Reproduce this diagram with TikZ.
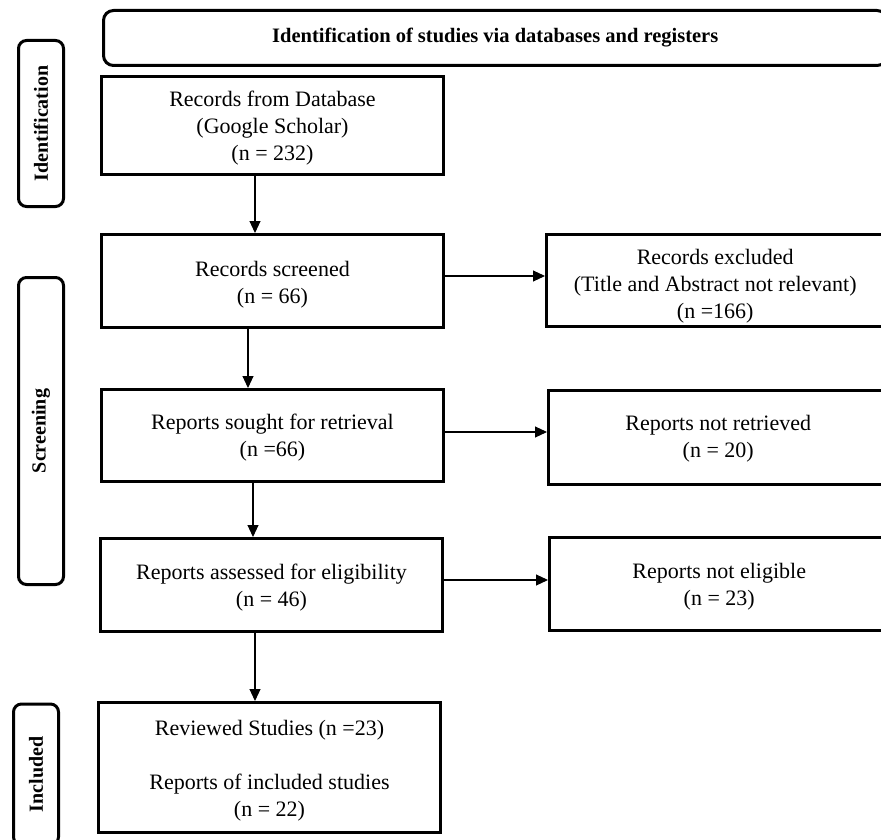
\documentclass[tikz,border=0pt]{standalone}
\usepackage{fontspec}
\setmainfont{Liberation Serif}
\usetikzlibrary{arrows.meta}
\begin{document}
\begin{tikzpicture}[x=1pt,y=-1pt,
  flowbox/.style={draw=black, line width=3pt, rectangle, inner sep=0pt},
  flowtext/.style={inner sep=0pt, align=center, font=\fontsize{22}{27}\selectfont},
  phase/.style={draw=black, line width=3pt, rectangle, rounded corners=8pt, inner sep=0pt,
    minimum width=45pt},
  phasetext/.style={rotate=90, font=\fontsize{20}{24}\selectfont\bfseries},
  arr/.style={line width=1.1pt, -{Triangle[length=12pt,width=11pt]}}]
\useasboundingbox (0,0) rectangle (881,840);
\clip (0,0) rectangle (881,840);
% header
\node[draw=black, line width=3pt, rounded corners=10pt, inner sep=0pt,
  minimum width=783.5pt, minimum height=55pt,
  font=\fontsize{20.5}{24}\selectfont\bfseries] (head) at (495.25,38)
  {Identification of studies via databases and registers};
% phase labels
\node[phase, minimum height=166pt] (idlab) at (41,123.5) {};
\node[phasetext] (idtxt) at (idlab.center) {Identification};
\node[phase, minimum height=307pt] (scrlab) at (41,431) {};
\node[phasetext] (scrtxt) at (scrlab.center) {Screening};
\node[phase, minimum height=141pt] (inclab) at (36,774.5) {};
\node[phasetext] (inctxt) at (inclab.center) {Included};
% main column
\node[flowbox, minimum width=342pt, minimum height=98pt] (box1) at (272.5,125.5) {};
\node[flowtext] (box1t) at ([yshift=-2.5pt]box1.center)
  {Records from Database\\(Google Scholar)\\(n = 232)};
\node[flowbox, minimum width=342pt, minimum height=93pt] (box2) at (272.5,281) {};
\node[flowtext] (box2t) at ([yshift=-3.5pt]box2.center)
  {Records screened\\(n = 66)};
\node[flowbox, minimum width=342pt, minimum height=92pt] (box3) at (272.5,435.5) {};
\node[flowtext] (box3t) at ([yshift=-2pt]box3.center)
  {Reports sought for retrieval\\(n =66)};
\node[flowbox, minimum width=342pt, minimum height=93pt] (box4) at (271.5,585) {};
\node[flowtext] (box4t) at ([yshift=-3pt]box4.center)
  {Reports assessed for eligibility\\(n = 46)};
\node[flowbox, minimum width=342pt, minimum height=130pt] (box5) at (269.5,767.5) {};
\node[flowtext] (box5t) at ([yshift=-3pt]box5.center)
  {Reviewed Studies (n =23)\\[27pt]Reports of included studies\\(n = 22)};
% right column
\node[flowbox, minimum width=337.5pt, minimum height=92pt] (rexcl) at (715.25,280.5) {};
\node[flowtext] (rexclt) at ([yshift=-5.5pt]rexcl.center)
  {Records excluded\\(Title and Abstract not relevant)\\(n =166)};
\node[flowbox, minimum width=339.5pt, minimum height=94pt] (rnotret) at (718.25,437.5) {};
\node[flowtext] (rnotrett) at ([yshift=-1.5pt]rnotret.center)
  {Reports not retrieved\\(n = 20)};
\node[flowbox, minimum width=339.5pt, minimum height=93pt] (rnotel) at (719.25,584) {};
\node[flowtext] (rnotelt) at ([yshift=-3pt]rnotel.center)
  {Reports not eligible\\(n = 23)};
% vertical arrows
\draw[arr] (box1.south -| 255,0) -- (box2.north -| 255,0);
\draw[arr] (box2.south -| 248,0) -- (box3.north -| 248,0);
\draw[arr] (box3.south -| 253,0) -- (box4.north -| 253,0);
\draw[arr] (box4.south -| 255,0) -- (box5.north -| 255,0);
% horizontal arrows
\draw[arr] (box2.east |- 0,276) -- (rexcl.west |- 0,276);
\draw[arr] (box3.east |- 0,432) -- (rnotret.west |- 0,432);
\draw[arr] (box4.east |- 0,580) -- (rnotel.west |- 0,580);
\end{tikzpicture}
\end{document}
